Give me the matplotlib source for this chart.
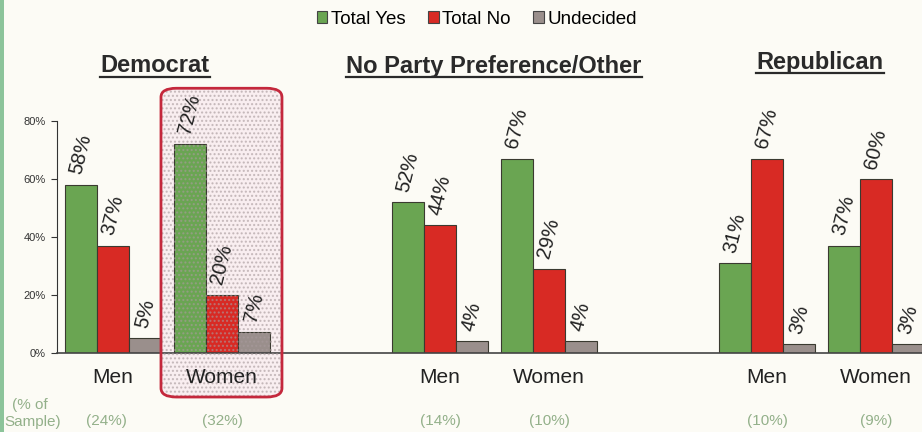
"""Grouped bar chart: Total Yes / Total No / Undecided by party and gender."""

import matplotlib
matplotlib.use('Agg')
import matplotlib.pyplot as plt
from matplotlib.patches import FancyBboxPatch, Rectangle
from matplotlib.lines import Line2D

plt.rcParams['font.family'] = ['Liberation Sans', 'DejaVu Sans']
plt.rcParams['hatch.linewidth'] = 1.0

# Data
parties = ['Democrat', 'No Party Preference/Other', 'Republican']
genders = ['Men', 'Women']
group_pos = [0, 1, 3, 4, 6, 7]
total_yes = [58, 72, 52, 67, 31, 37]
total_no = [37, 20, 44, 29, 67, 60]
undecided = [5, 7, 4, 4, 3, 3]
sample_share = ['(24%)', '(32%)', '(14%)', '(10%)', '(10%)', '(9%)']
series_names = ['Total Yes', 'Total No', 'Undecided']
series_colors = ['#6aa552', '#d82a24', '#9a8f8c']
y_ticks = [0, 20, 40, 60, 80]

BG = '#fcfbf5'
SAMPLE_COLOR = '#93b08a'

fig = plt.figure(figsize=(9.22, 4.32), dpi=100, facecolor=BG)
W, H = 922, 432


def px(x, y):
    """Convert pixel coords (top-left origin) to figure fraction."""
    return x / W, 1 - y / H


ax = fig.add_axes([57 / W, (H - 352.7) / H, 1 - 57 / W, 231.7 / H])
ax.set_facecolor('none')
ax.set_xlim(-0.514, 7.422)
ax.set_ylim(0, 80)

width = 0.295
series = [total_yes, total_no, undecided]
for k, (vals, color, name) in enumerate(zip(series, series_colors, series_names)):
    xs = [p + (k - 1) * width for p in group_pos]
    ax.bar(xs, vals, width=width, color=color, edgecolor='#3a3a30',
           linewidth=0.8, label=name, zorder=2)
    for x, v in zip(xs, vals):
        ax.annotate(f'{v}%', (x, v), xytext=(0, 6), textcoords='offset points',
                    rotation=76, ha='center', va='bottom', fontsize=14.5,
                    color='#222222', annotation_clip=False, zorder=4)

# Axes styling
for side in ['top', 'right']:
    ax.spines[side].set_visible(False)
ax.spines['left'].set_color('#333333')
ax.spines['bottom'].set_color('#444444')
ax.spines['bottom'].set_linewidth(1.2)
ax.set_yticks(y_ticks)
ax.set_yticklabels([f'{t}%' for t in y_ticks], fontsize=8, color='#333333')
ax.tick_params(axis='y', length=4, width=0.8, color='#333333', pad=4)
ax.set_xticks([])

# Men / Women labels and sample shares
for i, p in enumerate(group_pos):
    ax.text(p, -8.5, genders[i % 2], ha='center', va='center', fontsize=15,
            color='#222222', zorder=4)
    ax.text(p - (0.06 if i == 0 else 0), -23.5, sample_share[i], ha='center',
            va='center', fontsize=11, color=SAMPLE_COLOR)
fig.text(*px(12, 405), '(% of', fontsize=11, color=SAMPLE_COLOR, va='center')
fig.text(*px(4, 422), 'Sample)', fontsize=11, color=SAMPLE_COLOR, va='center')

# Highlight box around Democrat Women
box_xy, box_w, box_h = (0.44, -15.3), 1.11, 106.6
box_kw = dict(boxstyle='round,pad=0,rounding_size=0.14',
              mutation_aspect=22, transform=ax.transData, clip_on=False)
ax.add_patch(FancyBboxPatch(box_xy, box_w, box_h, facecolor='#f9eef0',
                            edgecolor='none', zorder=1, **box_kw))
ax.add_patch(FancyBboxPatch(box_xy, box_w, box_h, facecolor='none',
                            edgecolor='#a89a9c', hatch='....', linewidth=0,
                            alpha=0.6, zorder=3, **box_kw))
ax.add_patch(FancyBboxPatch(box_xy, box_w, box_h, facecolor='none',
                            edgecolor='#c4283c', linewidth=2.0, zorder=5,
                            **box_kw))

# Party titles (bold, underlined)
title_pos = [(155, 66), (494, 66), (820, 62)]
title_texts = []
for name, (x, y) in zip(parties, title_pos):
    t = fig.text(*px(x, y), name, ha='center', va='center', fontsize=17,
                 fontweight='bold', color='#2a2a2a')
    title_texts.append(t)

# Legend
leg = fig.legend(loc='center', bbox_to_anchor=px(477, 19), ncol=3,
                 frameon=False, fontsize=13.5, handlelength=0.55,
                 handleheight=0.55, handletextpad=0.2, columnspacing=1.2,
                 borderaxespad=0)
for handle in leg.legend_handles:
    handle.set_edgecolor('#444444')

# Thin green border on the left edge
fig.patches.append(Rectangle((0, 0), 4 / W, 1, transform=fig.transFigure,
                             facecolor='#8cc49a', edgecolor='none'))

# Underline the titles using their rendered extents
fig.canvas.draw()
renderer = fig.canvas.get_renderer()
for t in title_texts:
    bb = t.get_window_extent(renderer)
    y = bb.y0 + 0.5
    fig.add_artist(Line2D([bb.x0 / W, bb.x1 / W], [y / H, y / H],
                          transform=fig.transFigure, color='#2a2a2a',
                          linewidth=1.6))

fig.savefig('out.png', dpi=100, facecolor=BG)
